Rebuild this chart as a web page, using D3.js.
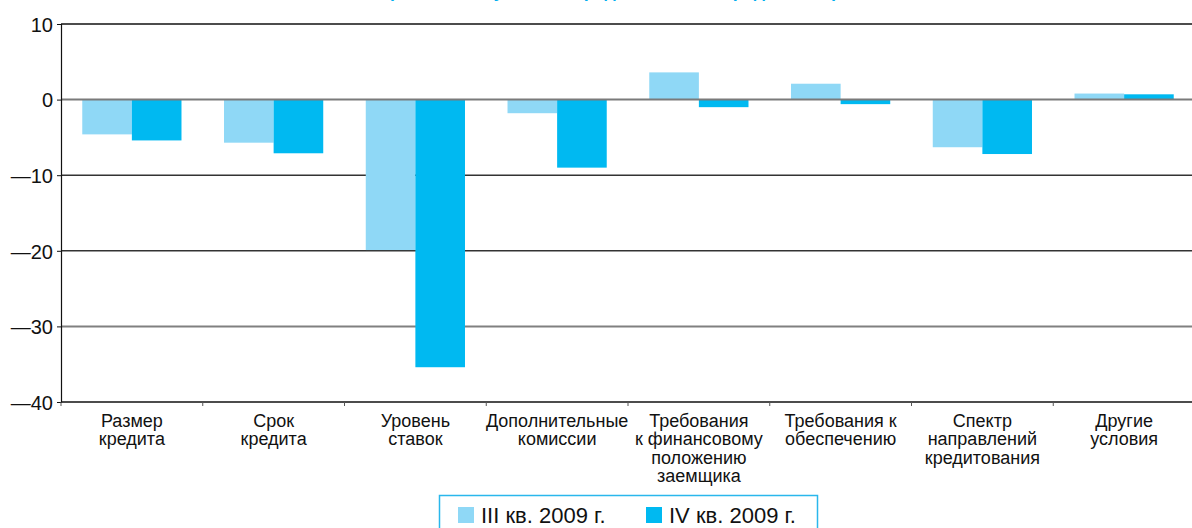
<!DOCTYPE html>
<html>
<head>
<meta charset="utf-8">
<script src="https://cdn.jsdelivr.net/npm/d3@7"></script>
<style>
  body { margin: 0; background: #fff; }
  svg { display: block; font-family: "Liberation Sans", Arial, Helvetica, sans-serif; }
</style>
</head>
<body>
<div id="chart"></div>
<script>
// categories (label lines) and the two quarters
const categories = [
    ['Размер', 'кредита'],
    ['Срок', 'кредита'],
    ['Уровень', 'ставок'],
    ['Дополнительные', 'комиссии'],
    ['Требования', 'к финансовому', 'положению', 'заемщика'],
    ['Требования к', 'обеспечению'],
    ['Спектр', 'направлений', 'кредитования'],
    ['Другие', 'условия']
];
const seriesNames = ['III кв. 2009 г.', 'IV кв. 2009 г.'];
const q3 = [-4.6, -5.7, -19.9, -1.8, 3.6, 2.1, -6.3, 0.8];
const q4 = [-5.4, -7.1, -35.4, -9.0, -1.0, -0.6, -7.2, 0.7];
const yTicks = [10, 0, -10, -20, -30, -40];
const colors = ['#8fd8f6', '#00b9f1'];

const width = 1192;
const height = 528;
const margin = { left: 61, right: -3, top: 24, bottom: 126 };

const svg = d3.select('#chart')
    .append('svg')
    .attr('width', width)
    .attr('height', height);

// title, almost entirely above the visible area (only descenders show)
svg.append('text')
    .attr('x', 388)
    .attr('y', -3)
    .attr('textLength', 450)
    .attr('lengthAdjust', 'spacingAndGlyphs')
    .style('font-size', '20px')
    .style('font-weight', 'bold')
    .style('fill', '#00aeef')
    .text('(изменение условий предоставления кредитов, %)');

const x0 = d3.scaleBand()
    .domain(d3.range(categories.length))
    .range([margin.left, width - margin.right])
    .paddingInner(0.3)
    .paddingOuter(0.15);

const x1 = d3.scaleBand()
    .domain([0, 1])
    .range([0, x0.bandwidth()]);

const y = d3.scaleLinear()
    .domain([-40, 10])
    .range([height - margin.bottom, margin.top]);

// grid lines (under the bars)
const gridStyle = {
    '10': ['#111', 1.5], '-10': ['#333', 1.5], '-20': ['#333', 1.5], '-30': ['#808080', 2]
};
svg.append('g')
    .selectAll('line')
    .data(yTicks.filter(d => gridStyle[d]))
    .enter()
    .append('line')
    .attr('x1', margin.left)
    .attr('x2', width)
    .attr('y1', d => y(d))
    .attr('y2', d => y(d))
    .style('stroke', d => gridStyle[d][0])
    .style('stroke-width', d => gridStyle[d][1]);

// bars
const data = categories.map((c, i) => [q3[i], q4[i]]);
svg.append('g')
    .selectAll('g')
    .data(data)
    .enter()
    .append('g')
    .attr('transform', (d, i) => `translate(${x0(i)},0)`)
    .selectAll('rect')
    .data(d => d)
    .enter()
    .append('rect')
    .attr('x', (d, j) => x1(j))
    .attr('width', x1.bandwidth())
    .attr('y', d => y(Math.max(0, d)))
    .attr('height', d => Math.abs(y(d) - y(0)))
    .style('fill', (d, j) => colors[j]);

// zero line drawn over bars
svg.append('line')
    .attr('x1', margin.left)
    .attr('x2', width)
    .attr('y1', y(0))
    .attr('y2', y(0))
    .style('stroke', '#7a7a7a')
    .style('stroke-width', 2);

// y axis
const yAxis = svg.append('g')
    .attr('transform', `translate(${margin.left},0)`)
    .call(d3.axisLeft(y).tickValues(yTicks).tickSize(4).tickPadding(4)
        .tickFormat(d => d < 0 ? '\u2014' + Math.abs(d) : d));
yAxis.select('.domain').style('stroke', '#111').style('stroke-width', 1.2);
yAxis.selectAll('.tick line').style('stroke', '#111');
yAxis.selectAll('.tick text')
    .style('font-size', '20px')
    .style('fill', '#111')
    .attr('dy', '0.36em');

// x axis line and ticks on band boundaries
const bottom = y(-40);
svg.append('line')
    .attr('x1', margin.left)
    .attr('x2', width)
    .attr('y1', bottom)
    .attr('y2', bottom)
    .style('stroke', '#111')
    .style('stroke-width', 1.5);

const step = x0.step();
svg.append('g')
    .selectAll('line')
    .data(d3.range(categories.length + 1))
    .enter()
    .append('line')
    .attr('x1', i => margin.left + i * step)
    .attr('x2', i => margin.left + i * step)
    .attr('y1', bottom)
    .attr('y2', bottom + 4)
    .style('stroke', '#555')
    .style('stroke-width', 1);

// category labels
const labels = svg.append('g')
    .selectAll('text')
    .data(categories)
    .enter()
    .append('text')
    .attr('text-anchor', 'middle')
    .attr('transform', (d, i) => `translate(${x0(i) + x0.bandwidth() / 2},427)`)
    .style('font-size', '18px')
    .style('fill', '#111');
labels.selectAll('tspan')
    .data(d => d)
    .enter()
    .append('tspan')
    .attr('x', 0)
    .attr('y', (d, k) => k * 18.3)
    .text(d => d);

// legend
const legend = svg.append('g');
legend.append('rect')
    .attr('x', 439.5)
    .attr('y', 495.5)
    .attr('width', 378)
    .attr('height', 50)
    .style('fill', '#fff')
    .style('stroke', '#2ab7ec')
    .style('stroke-width', 1.5);

const legendX = [458, 646];
const items = legend.selectAll('g.item')
    .data(seriesNames)
    .enter()
    .append('g')
    .attr('class', 'item')
    .attr('transform', (d, i) => `translate(${legendX[i]},507)`);
items.append('rect')
    .attr('width', 16)
    .attr('height', 16)
    .style('fill', (d, i) => colors[i]);
items.append('text')
    .attr('x', 23)
    .attr('y', 16)
    .style('font-size', '22px')
    .style('fill', '#111')
    .text(d => d);
</script>
</body>
</html>
